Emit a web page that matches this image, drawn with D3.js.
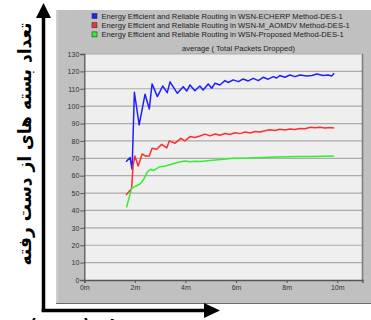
<!DOCTYPE html>
<html>
<head>
<meta charset="utf-8">
<script src="https://cdn.jsdelivr.net/npm/d3@7"></script>
<style>
  html, body { margin: 0; padding: 0; background: #fff; overflow: hidden; }
  svg { display: block; }
</style>
</head>
<body>
<script>
// series names (legend)
const seriesNames = [
  'Energy Efficient and Reliable Routing in WSN-ECHERP Method-DES-1',
  'Energy Efficient and Reliable Routing in WSN-M_AOMDV Method-DES-1',
  'Energy Efficient and Reliable Routing in WSN-Proposed Method-DES-1'
];
const seriesColors = ['#2020ff', '#ff2e2e', '#33ee33'];

// [minutes, packets dropped]
const echerp = [
  [1.65, 68], [1.81, 70.4], [1.89, 63.7], [1.98, 108], [2.17, 89.2], [2.40, 106.8],
  [2.57, 98.4], [2.68, 112.8], [2.89, 105.5], [3.10, 111.6], [3.28, 107.8], [3.39, 114],
  [3.68, 107.4], [3.91, 111.2], [4.05, 108.7], [4.18, 112.2], [4.37, 108.9], [4.57, 111.6],
  [4.70, 109.3], [4.90, 112.8], [5.04, 110.3], [5.17, 113.2], [5.36, 112.2], [5.56, 114.7],
  [5.69, 113.6], [5.89, 115.1], [6.09, 114.1], [6.28, 115.6], [6.48, 114.5], [6.68, 116],
  [6.88, 114.7], [7.07, 116.6], [7.27, 115.5], [7.47, 117], [7.60, 116.2], [7.73, 117.6],
  [7.93, 116.6], [8.13, 117.9], [8.33, 117], [8.53, 117.9], [8.79, 117.4], [9.00, 117.6],
  [9.19, 118.5], [9.45, 117.6], [9.64, 117.9], [9.78, 117.4], [9.88, 118.9]
];
const maodv = [
  [1.65, 48.9], [1.87, 52.7], [1.93, 66], [2.00, 71.3], [2.13, 65.6], [2.29, 72.5],
  [2.42, 71.3], [2.57, 71.3], [2.68, 75.8], [2.86, 75.2], [3.06, 78], [3.26, 76],
  [3.36, 80], [3.59, 78.7], [3.82, 81.5], [3.98, 80], [4.18, 82.5], [4.37, 82],
  [4.57, 82.8], [4.77, 83.9], [4.97, 82.9], [5.17, 84], [5.36, 83.3], [5.56, 84.3],
  [5.76, 83.7], [5.96, 84.7], [6.16, 84.2], [6.36, 85.1], [6.55, 84.6], [6.75, 85.4],
  [6.95, 85.1], [7.15, 85.9], [7.34, 86.4], [7.54, 86], [7.73, 86.7], [7.93, 86.3],
  [8.13, 86.9], [8.33, 86.6], [8.53, 87.2], [8.73, 87], [8.93, 87.9], [9.13, 87.6],
  [9.32, 87.8], [9.52, 87.4], [9.72, 87.7], [9.88, 87.5]
];
const proposed = [
  [1.67, 41.7], [1.87, 52.7], [2.04, 54.1], [2.20, 55.2], [2.33, 57.5], [2.50, 62.3],
  [2.62, 63.7], [2.73, 62.9], [2.99, 65.2], [3.20, 65.6], [3.45, 66.6], [3.72, 67.7],
  [3.98, 68.5], [4.18, 68], [4.37, 68.3], [4.57, 68.2], [4.77, 68.4], [4.97, 68.8],
  [5.30, 69.2], [5.60, 69.6], [5.90, 70], [6.30, 70.1], [6.70, 70.3], [7.10, 70.5],
  [7.50, 70.7], [8.00, 70.9], [8.50, 71], [9.00, 71.1], [9.50, 71.2], [9.88, 71.3]
];
const allSeries = [echerp, maodv, proposed];

const yTicks = [0, 10, 20, 30, 40, 50, 60, 70, 80, 90, 100, 110, 120, 130];
const xTicks = [0, 2, 4, 6, 8, 10];
const chartTitle = 'average ( Total Packets Dropped)';
const yLabel = 'تعداد بسته های از دست رفته';
const xLabel = 'زمان (دقیقه)';

const width = 371, height = 320;
const plot = {left: 84.3, right: 362.5, top: 54, bottom: 280};
const font = '"Liberation Sans", Arial, sans-serif';

const svg = d3.select('body').append('svg').attr('width', width).attr('height', height);

// grey panel
svg.append('rect').attr('x', 56).attr('y', 10).attr('width', width - 56).attr('height', 293.5)
  .attr('fill', '#c0c0c0');
svg.append('line').attr('x1', 56).attr('x2', width).attr('y1', 303.5).attr('y2', 303.5)
  .attr('stroke', '#6a6a6a').attr('stroke-width', 1.2);
svg.append('line').attr('x1', 57).attr('x2', 57).attr('y1', 10).attr('y2', 303)
  .attr('stroke', '#dcdcdc').attr('stroke-width', 1);

const x = d3.scaleLinear().domain([0, 11]).range([plot.left, plot.right]);
const y = d3.scaleLinear().domain([0, 130]).range([plot.bottom, plot.top]);

svg.append('rect')
  .attr('x', plot.left).attr('y', plot.top)
  .attr('width', plot.right - plot.left).attr('height', plot.bottom - plot.top)
  .attr('fill', '#efefef');

// horizontal grid
svg.append('g').selectAll('line').data(yTicks.filter(d => d > 0)).join('line')
  .attr('x1', plot.left).attr('x2', plot.right)
  .attr('y1', d => y(d)).attr('y2', d => y(d))
  .attr('stroke', '#ababab').attr('stroke-width', 1.2);

// right border
svg.append('line').attr('x1', plot.right).attr('x2', plot.right)
  .attr('y1', plot.top).attr('y2', plot.bottom)
  .attr('stroke', '#7a7a7a').attr('stroke-width', 1.5);

// axes
const yAxis = d3.axisLeft(y).tickValues(yTicks).tickSize(4).tickPadding(1);
const xAxis = d3.axisBottom(x).tickValues(xTicks).tickSize(3).tickPadding(2).tickFormat(d => d + 'm');

const $y = svg.append('g').attr('transform', `translate(${plot.left},0)`).call(yAxis);
const $x = svg.append('g').attr('transform', `translate(0,${plot.bottom})`).call(xAxis);
[$y, $x].forEach($a => {
  $a.select('.domain').attr('stroke', '#555').attr('stroke-width', 1.3);
  $a.selectAll('.tick line').attr('stroke', '#555');
  $a.selectAll('.tick text').attr('fill', '#333').style('font', `7px ${font}`);
});

// lines
const line = d3.line().x(d => x(d[0])).y(d => y(d[1]));
svg.append('g').selectAll('path').data(allSeries).join('path')
  .attr('d', line)
  .attr('fill', 'none')
  .attr('stroke', (d, i) => seriesColors[i])
  .attr('stroke-width', 1.5)
  .attr('stroke-linejoin', 'round');

// legend
const $legend = svg.append('g').selectAll('g').data(seriesNames).join('g')
  .attr('transform', (d, i) => `translate(92, ${13.5 + i * 9.2})`);
$legend.append('rect').attr('width', 5).attr('height', 5)
  .attr('fill', (d, i) => seriesColors[i]).attr('stroke', '#333').attr('stroke-width', 0.6);
$legend.append('text').attr('x', 9.5).attr('y', 5.2)
  .attr('fill', '#222').style('font', `7.65px ${font}`)
  .text(d => d);

svg.append('text').attr('x', 238.5).attr('y', 50.5).attr('text-anchor', 'middle')
  .attr('fill', '#222').style('font', `7.6px ${font}`).text(chartTitle);

// arrows
svg.append('line').attr('x1', 43.5).attr('x2', 43.5).attr('y1', 312).attr('y2', 17)
  .attr('stroke', '#000').attr('stroke-width', 3.5);
svg.append('path').attr('d', 'M36,18L51,18L43.5,3Z').attr('fill', '#000');
svg.append('line').attr('x1', 41.7).attr('x2', 206).attr('y1', 310.5).attr('y2', 310.5)
  .attr('stroke', '#000').attr('stroke-width', 3.5);
svg.append('path').attr('d', 'M204,303L204,318L220,310.5Z').attr('fill', '#000');

// Persian axis titles
svg.append('text')
  .attr('transform', 'translate(31,144) rotate(-90)')
  .attr('text-anchor', 'middle').attr('direction', 'rtl')
  .attr('textLength', 243).attr('lengthAdjust', 'spacingAndGlyphs')
  .style('font', 'bold 18px "DejaVu Sans", sans-serif')
  .text(yLabel);
svg.append('text')
  .attr('x', 82).attr('y', 333)
  .attr('text-anchor', 'middle').attr('direction', 'rtl')
  .attr('textLength', 105).attr('lengthAdjust', 'spacingAndGlyphs')
  .style('font', 'bold 19px "DejaVu Sans", sans-serif')
  .text(xLabel);
</script>
</body>
</html>
